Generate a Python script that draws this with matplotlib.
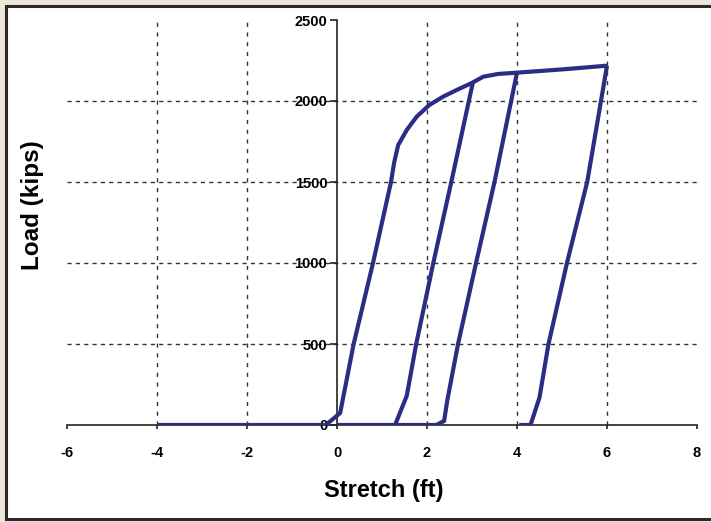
import matplotlib
matplotlib.use('Agg')
import matplotlib.pyplot as plt
from matplotlib.patches import Rectangle

# 数据：加载骨架曲线 + 三条卸载曲线
backbone_x = [-4, -0.25, 0.07, 0.37, 0.8, 1.2, 1.27, 1.36, 1.55, 1.77, 2.05, 2.36, 2.66, 3.0, 3.25, 3.58, 4.0, 5.0, 6.0]
backbone_y = [0, 0, 74, 500, 1000, 1500, 1620, 1728, 1821, 1903, 1975, 2027, 2068, 2112, 2150, 2167, 2175, 2195, 2218]

unload1_x = [3.02, 2.54, 2.14, 1.76, 1.55, 1.29, 0.0]
unload1_y = [2115, 1500, 1000, 500, 180, 0, 0]

unload2_x = [4.0, 3.5, 3.09, 2.69, 2.45, 2.38, 2.21, 1.29]
unload2_y = [2175, 1500, 1000, 500, 150, 25, 0, 0]

unload3_x = [6.0, 5.56, 5.11, 4.7, 4.5, 4.3, 4.05]
unload3_y = [2218, 1500, 1000, 500, 170, 0, 0]

x_ticks = [-6, -4, -2, 0, 2, 4, 6, 8]
y_ticks = [0, 500, 1000, 1500, 2000, 2500]
x_grid = [-4, -2, 2, 4, 6]
y_grid = [500, 1000, 1500, 2000]

plt.rcParams['font.family'] = ['Liberation Sans', 'DejaVu Sans']

fig = plt.figure(figsize=(7.11, 5.22), dpi=100)
fig.patch.set_facecolor('#efe6da')
fig.patches.append(Rectangle((6 / 711, 3 / 522), 720 / 711, 513 / 522, transform=fig.transFigure,
                             facecolor='white', edgecolor='#2a2a2a', linewidth=2.2, zorder=-5))

ax = fig.add_axes([67 / 711, 1 - 425 / 522, 630 / 711, 405 / 522])
ax.set_zorder(2)
ax.set_facecolor('none')
ax.set_xlim(-6, 8)
ax.set_ylim(0, 2500)

# 网格线
for gx in x_grid:
    ax.plot([gx, gx], [0, 2500], color='#333333', linestyle=(0, (3, 4)), linewidth=1.0, zorder=1)
for gy in y_grid:
    ax.plot([-6, 8], [gy, gy], color='#333333', linestyle=(0, (3, 3)), linewidth=1.0, zorder=1)

color = '#2b2d84'
for xs, ys in [(backbone_x, backbone_y), (unload1_x, unload1_y), (unload2_x, unload2_y), (unload3_x, unload3_y)]:
    ax.plot(xs, ys, color=color, linewidth=3.0, solid_joinstyle='round', solid_capstyle='butt', zorder=3)

# 坐标轴
ax.spines['top'].set_visible(False)
ax.spines['right'].set_visible(False)
ax.spines['left'].set_position(('data', 0))
ax.spines['bottom'].set_position(('data', 0))
for s in ['left', 'bottom']:
    ax.spines[s].set_color('#222222')
    ax.spines[s].set_linewidth(1.2)
    ax.spines[s].set_zorder(2)

ax.set_xticks(x_ticks)
ax.set_yticks(y_ticks)
ax.set_xticklabels([str(t) for t in x_ticks], fontsize=10.5, fontweight='bold')
ax.set_yticklabels([str(t) for t in y_ticks], fontsize=10.5, fontweight='bold')
ax.tick_params(axis='y', direction='out', length=5, width=1.2, pad=2, color='#222222')
ax.tick_params(axis='x', direction='out', length=3, width=1.2, pad=12, color='#222222')

fig.text(384 / 711, 1 - 491 / 522, 'Stretch (ft)', ha='center', va='center', fontsize=17, fontweight='bold')
fig.text(32 / 711, 1 - 205 / 522, 'Load (kips)', ha='center', va='center', rotation=90,
         fontsize=17.5, fontweight='bold')

plt.savefig('out.png', dpi=100, facecolor=fig.get_facecolor())
plt.close()
